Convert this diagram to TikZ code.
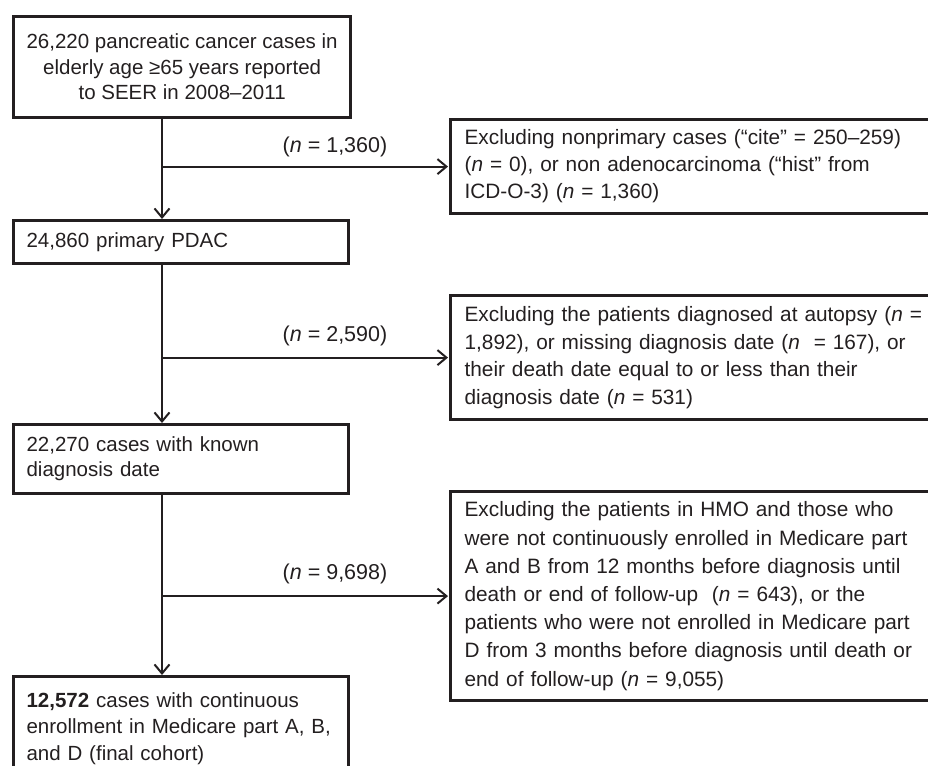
\documentclass[tikz,border=0pt]{standalone}
\usepackage{fontspec}
\setmainfont{Liberation Sans}
\usetikzlibrary{arrows.meta}
\definecolor{ink}{HTML}{231F20}
\begin{document}
\begin{tikzpicture}[x=1pt,y=-1pt,
  box/.style={draw=ink, line width=3.2pt, text=ink, anchor=north west,
    inner xsep=13pt, inner ysep=0pt, font=\fontsize{20.5}{27}\selectfont},
  leftbox/.style={box, text width=309pt, align=left},
  rightbox/.style={box, text width=480pt, align=left, inner xsep=14pt},
  conn/.style={draw=ink, line width=2pt, -{Straight Barb[length=9pt,width=15pt,line width=2pt]}},
  lbl/.style={text=ink, font=\fontsize{21.5}{25}\selectfont, inner sep=0pt}]
\useasboundingbox (0,0) rectangle (928,765);
\clip (0,0) rectangle (928,765);

\node[box, minimum width=335pt, minimum height=101pt, align=center,
  font=\fontsize{20.5}{25.5}\selectfont] (n1) at (12,15)
  {26,220 pancreatic cancer cases in\\elderly age ≥65 years reported\\to SEER in 2008–2011};

\node[leftbox, minimum height=43pt] (n2) at (12,219) {24,860 primary PDAC};

\node[leftbox, minimum height=69pt, font=\fontsize{20.5}{25}\selectfont] (n3) at (12,423)
  {22,270 cases with known\\diagnosis date};

\node[leftbox, inner ysep=16pt, font=\fontsize{20.5}{26.5}\selectfont] (n4) at (12,675)
  {\textbf{12,572} cases with continuous\\enrollment in Medicare part A, B,\\and D (final cohort)};

\node[rightbox, minimum height=94pt, font=\fontsize{20.8}{27}\selectfont] (r1) at (449,118)
  {Excluding nonprimary cases (“cite” = 250–259)\\(\textit{n} = 0), or non adenocarcinoma (“hist” from\\ICD-O-3) (\textit{n} = 1,360)};

\node[rightbox, minimum height=124pt, font=\fontsize{20.8}{27.5}\selectfont] (r2) at (449,294)
  {Excluding the patients diagnosed at autopsy (\textit{n} =\\1,892), or missing diagnosis date (\textit{n}\ \ = 167), or\\their death date equal to or less than their\\diagnosis date (\textit{n} = 531)};

\node[rightbox, minimum height=209pt, font=\fontsize{20.8}{28.2}\selectfont] (r3) at (449,490)
  {Excluding the patients in HMO and those who\\were not continuously enrolled in Medicare part\\A and B from 12 months before diagnosis until\\death or end of follow-up\ \ (\textit{n} = 643), or the\\patients who were not enrolled in Medicare part\\D from 3 months before diagnosis until death or\\end of follow-up (\textit{n} = 9,055)};

\coordinate (vx) at (162,0);

\draw[conn] (n1.south -| vx) -- (n2.north -| vx);
\draw[conn] (n2.south -| vx) -- (n3.north -| vx);
\draw[conn] (n3.south -| vx) -- (n4.north -| vx);

\draw[conn, shorten >=1pt] (vx |- r1.west) -- (r1.west);
\draw[conn, shorten >=1pt] (vx |- r2.west) -- (r2.west);
\draw[conn, shorten >=1pt] (vx |- r3.west) -- (r3.west);

\node[lbl] (l1) at (335,147) {(\textit{n} = 1,360)};
\node[lbl] (l2) at (335,336) {(\textit{n} = 2,590)};
\node[lbl] (l3) at (335,574) {(\textit{n} = 9,698)};
\end{tikzpicture}
\end{document}
